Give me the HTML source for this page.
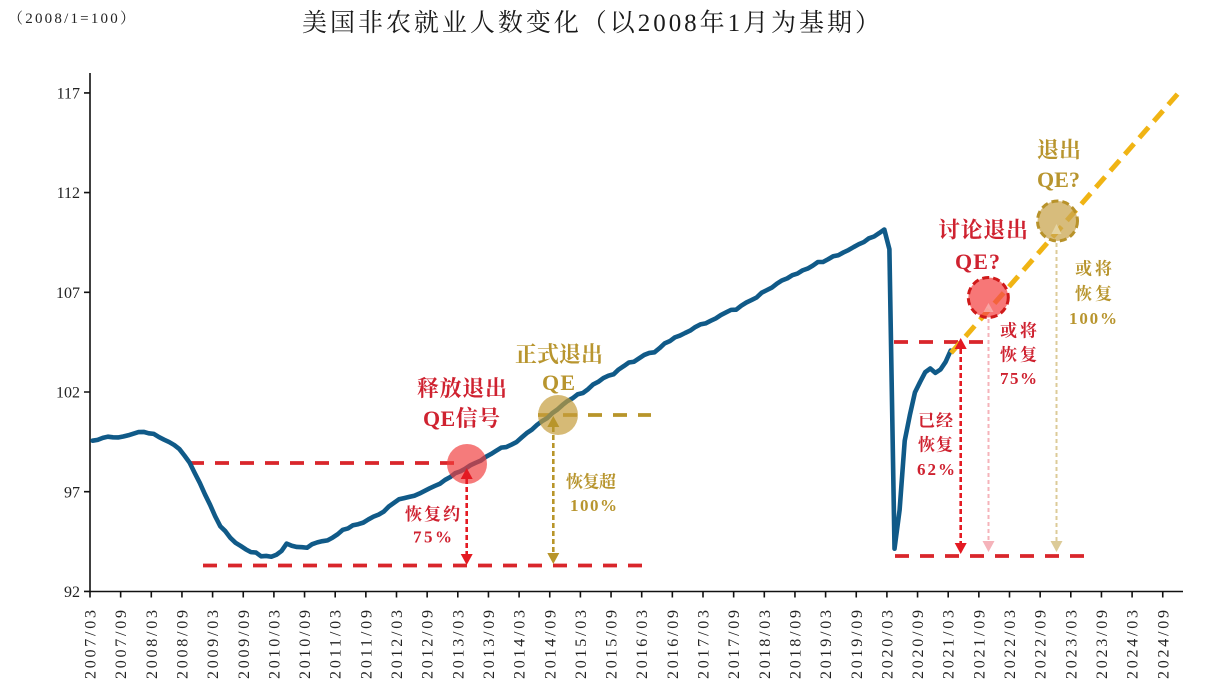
<!DOCTYPE html>
<html><head><meta charset="utf-8"><style>
html,body{margin:0;padding:0;background:#fff;}
svg{display:block;}
.ax{font-family:"Liberation Serif","Noto Serif CJK SC",serif;font-size:16px;fill:#222;}
.an{font-family:"Liberation Serif","Noto Serif CJK SC",serif;font-weight:700;}
.r{fill:#cf2230;}
.g{fill:#b8952e;}
</style></head><body>
<svg width="1218" height="697" viewBox="0 0 1218 697" xmlns="http://www.w3.org/2000/svg">
<rect width="1218" height="697" fill="#fff"/>
<!-- titles -->
<text x="8" y="23" font-family="Liberation Serif, Noto Serif CJK SC, serif" font-size="15" fill="#222" textLength="127" lengthAdjust="spacing">（2008/1=100）</text>
<text x="302" y="31" font-family="Liberation Serif, Noto Serif CJK SC, serif" font-size="25" fill="#1a1a1a" textLength="578" lengthAdjust="spacing">美国非农就业人数变化（以2008年1月为基期）</text>

<!-- axes -->
<g stroke="#111" stroke-width="1.6" fill="none">
<path d="M90,73V591.5H1183"/>
<path d="M84,591.4H90M84,491.7H90M84,392H90M84,292.3H90M84,192.6H90M84,92.9H90"/>
<path d="M90,591.5v6M120.65,591.5v6M151.3,591.5v6M181.95,591.5v6M212.6,591.5v6M243.25,591.5v6M273.9,591.5v6M304.55,591.5v6M335.2,591.5v6M365.85,591.5v6M396.5,591.5v6M427.15,591.5v6M457.8,591.5v6M488.45,591.5v6M519.1,591.5v6M549.75,591.5v6M580.4,591.5v6M611.05,591.5v6M641.7,591.5v6M672.35,591.5v6M703,591.5v6M733.65,591.5v6M764.3,591.5v6M794.95,591.5v6M825.6,591.5v6M856.25,591.5v6M886.9,591.5v6M917.55,591.5v6M948.2,591.5v6M978.85,591.5v6M1009.5,591.5v6M1040.15,591.5v6M1070.8,591.5v6M1101.45,591.5v6M1132.1,591.5v6M1162.75,591.5v6"/>
</g>
<g class="ax" text-anchor="end">
<text x="80" y="597">92</text>
<text x="80" y="497.3">97</text>
<text x="80" y="397.6">102</text>
<text x="80" y="297.9">107</text>
<text x="80" y="198.2">112</text>
<text x="80" y="98.5">117</text>
</g>
<g class="ax" text-anchor="end">
<text transform="translate(95.5,610) rotate(-90)" textLength="69" lengthAdjust="spacing">2007/03</text>
<text transform="translate(126.15,610) rotate(-90)" textLength="69" lengthAdjust="spacing">2007/09</text>
<text transform="translate(156.8,610) rotate(-90)" textLength="69" lengthAdjust="spacing">2008/03</text>
<text transform="translate(187.45,610) rotate(-90)" textLength="69" lengthAdjust="spacing">2008/09</text>
<text transform="translate(218.1,610) rotate(-90)" textLength="69" lengthAdjust="spacing">2009/03</text>
<text transform="translate(248.75,610) rotate(-90)" textLength="69" lengthAdjust="spacing">2009/09</text>
<text transform="translate(279.4,610) rotate(-90)" textLength="69" lengthAdjust="spacing">2010/03</text>
<text transform="translate(310.05,610) rotate(-90)" textLength="69" lengthAdjust="spacing">2010/09</text>
<text transform="translate(340.7,610) rotate(-90)" textLength="69" lengthAdjust="spacing">2011/03</text>
<text transform="translate(371.35,610) rotate(-90)" textLength="69" lengthAdjust="spacing">2011/09</text>
<text transform="translate(402,610) rotate(-90)" textLength="69" lengthAdjust="spacing">2012/03</text>
<text transform="translate(432.65,610) rotate(-90)" textLength="69" lengthAdjust="spacing">2012/09</text>
<text transform="translate(463.3,610) rotate(-90)" textLength="69" lengthAdjust="spacing">2013/03</text>
<text transform="translate(493.95,610) rotate(-90)" textLength="69" lengthAdjust="spacing">2013/09</text>
<text transform="translate(524.6,610) rotate(-90)" textLength="69" lengthAdjust="spacing">2014/03</text>
<text transform="translate(555.25,610) rotate(-90)" textLength="69" lengthAdjust="spacing">2014/09</text>
<text transform="translate(585.9,610) rotate(-90)" textLength="69" lengthAdjust="spacing">2015/03</text>
<text transform="translate(616.55,610) rotate(-90)" textLength="69" lengthAdjust="spacing">2015/09</text>
<text transform="translate(647.2,610) rotate(-90)" textLength="69" lengthAdjust="spacing">2016/03</text>
<text transform="translate(677.85,610) rotate(-90)" textLength="69" lengthAdjust="spacing">2016/09</text>
<text transform="translate(708.5,610) rotate(-90)" textLength="69" lengthAdjust="spacing">2017/03</text>
<text transform="translate(739.15,610) rotate(-90)" textLength="69" lengthAdjust="spacing">2017/09</text>
<text transform="translate(769.8,610) rotate(-90)" textLength="69" lengthAdjust="spacing">2018/03</text>
<text transform="translate(800.45,610) rotate(-90)" textLength="69" lengthAdjust="spacing">2018/09</text>
<text transform="translate(831.1,610) rotate(-90)" textLength="69" lengthAdjust="spacing">2019/03</text>
<text transform="translate(861.75,610) rotate(-90)" textLength="69" lengthAdjust="spacing">2019/09</text>
<text transform="translate(892.4,610) rotate(-90)" textLength="69" lengthAdjust="spacing">2020/03</text>
<text transform="translate(923.05,610) rotate(-90)" textLength="69" lengthAdjust="spacing">2020/09</text>
<text transform="translate(953.7,610) rotate(-90)" textLength="69" lengthAdjust="spacing">2021/03</text>
<text transform="translate(984.35,610) rotate(-90)" textLength="69" lengthAdjust="spacing">2021/09</text>
<text transform="translate(1015,610) rotate(-90)" textLength="69" lengthAdjust="spacing">2022/03</text>
<text transform="translate(1045.65,610) rotate(-90)" textLength="69" lengthAdjust="spacing">2022/09</text>
<text transform="translate(1076.3,610) rotate(-90)" textLength="69" lengthAdjust="spacing">2023/03</text>
<text transform="translate(1106.95,610) rotate(-90)" textLength="69" lengthAdjust="spacing">2023/09</text>
<text transform="translate(1137.6,610) rotate(-90)" textLength="69" lengthAdjust="spacing">2024/03</text>
<text transform="translate(1168.25,610) rotate(-90)" textLength="69" lengthAdjust="spacing">2024/09</text>
</g>

<!-- reference dashed lines -->
<g fill="none" stroke-width="3.8" stroke-dasharray="14 11">
<path d="M190,463H457" stroke="#d9262b"/>
<path d="M203,565.5H648" stroke="#d9262b"/>
<path d="M538,415H651" stroke="#b8952a"/>
<path d="M894,342H983" stroke="#d9262b"/>
<path d="M895,556H1086" stroke="#d9262b"/>
</g>

<!-- main series -->
<path fill="none" stroke="#105a88" stroke-width="4.6" stroke-linejoin="round" stroke-linecap="round" vector-effect="non-scaling-stroke" transform="matrix(5.108 0 0 -19.94 92.554 2425.9)" d="M0,99.56 1,99.60 2,99.70 3,99.76 4,99.73 5,99.72 6,99.77 7,99.83 8,99.91 9,99.99 10,100.00 11,99.93 12,99.90 13,99.74 14,99.61 15,99.49 16,99.34 17,99.14 18,98.81 19,98.46 20,97.94 21,97.44 22,96.87 23,96.35 24,95.77 25,95.27 26,95.02 27,94.68 28,94.44 29,94.28 30,94.11 31,93.97 32,93.95 33,93.76 34,93.78 35,93.74 36,93.84 37,94.03 38,94.40 39,94.29 40,94.23 41,94.22 42,94.19 43,94.37 44,94.46 45,94.52 46,94.56 47,94.70 48,94.87 49,95.09 50,95.16 51,95.32 52,95.37 53,95.45 54,95.61 55,95.75 56,95.85 57,96.00 58,96.26 59,96.44 60,96.62 61,96.68 62,96.74 63,96.80 64,96.91 65,97.04 66,97.17 67,97.29 68,97.40 69,97.59 70,97.73 71,97.93 72,98.02 73,98.16 74,98.33 75,98.45 76,98.56 77,98.75 78,98.89 79,99.05 80,99.21 81,99.24 82,99.36 83,99.49 84,99.72 85,99.94 86,100.11 87,100.35 88,100.54 89,100.69 90,100.94 91,101.12 92,101.35 93,101.55 94,101.69 95,101.89 96,101.95 97,102.14 98,102.38 99,102.51 100,102.70 101,102.82 102,102.89 103,103.13 104,103.30 105,103.48 106,103.52 107,103.69 108,103.86 109,103.96 110,103.99 111,104.20 112,104.44 113,104.55 114,104.74 115,104.83 116,104.96 117,105.08 118,105.26 119,105.39 120,105.44 121,105.57 122,105.69 123,105.86 124,105.99 125,106.12 126,106.13 127,106.33 128,106.49 129,106.61 130,106.74 131,106.98 132,107.11 133,107.24 134,107.44 135,107.60 136,107.70 137,107.86 138,107.94 139,108.10 140,108.19 141,108.34 142,108.52 143,108.52 144,108.66 145,108.81 146,108.86 147,109.00 148,109.12 149,109.27 150,109.41 151,109.52 152,109.71 153,109.80 154,109.97 155,110.15 156,109.16 157,94.14 158,96.09 159,99.56 160,100.84 161,101.98 162,102.50 163,102.99 164,103.18 165,102.96 166,103.13 167,103.51 168,104.08"/>

<!-- circles -->
<circle cx="467" cy="464" r="20" fill="#f03c3c" opacity="0.68"/>
<circle cx="558" cy="415" r="20" fill="#c49c3c" opacity="0.7"/>

<!-- projection line -->
<path d="M951,353L1182,89" fill="none" stroke="#f0b414" stroke-width="5" stroke-dasharray="14 8"/>

<circle cx="988.3" cy="297.5" r="20" fill="#f44a4a" opacity="0.75"/>
<circle cx="988.3" cy="297.5" r="20" fill="none" stroke="#d01a1a" stroke-width="3" stroke-dasharray="7 4"/>
<circle cx="1057.5" cy="221" r="20" fill="#c9a550" opacity="0.75"/>
<circle cx="1057.5" cy="221" r="20" fill="none" stroke="#b8922a" stroke-width="3" stroke-dasharray="7 4"/>

<!-- arrows -->
<g fill="none" stroke-width="2.6" stroke-dasharray="5 3">
<path d="M466.7,479V554" stroke="#e41a22"/>
<path d="M553.3,427V553" stroke="#b8952a"/>
<path d="M960.7,349V543" stroke="#e41a22"/>
</g>
<g fill="none" stroke-width="2" stroke-dasharray="4 3">
<path d="M988.5,319V541" stroke="#f5b3ba"/>
<path d="M1056.5,243V541" stroke="#dccb98"/>
</g>
<g>
<path d="M466.7,468L472.7,479H460.7Z M466.7,565L472.7,554H460.7Z" fill="#e41a22"/>
<path d="M553.3,416L559.3,427H547.3Z M553.3,564L559.3,553H547.3Z" fill="#b8952a"/>
<path d="M960.7,338L966.7,349H954.7Z M960.7,554L966.7,543H954.7Z" fill="#e41a22"/>
<path d="M988.5,552L994.5,541H982.5Z" fill="#f5b3ba"/>
<path d="M988.5,303L993.5,312H983.5Z" fill="#f9b0b0" opacity="0.8"/>
<path d="M1056.5,552L1062.5,541H1050.5Z" fill="#dccb98"/>
<path d="M1056.5,224L1061.5,234H1051.5Z" fill="#e6d6a8" opacity="0.9"/>
</g>

<!-- annotations -->
<g class="an" text-anchor="middle" font-size="22">
<text class="r" x="462" y="396" textLength="90" lengthAdjust="spacing">释放退出</text>
<text class="r" x="461.5" y="426" textLength="77" lengthAdjust="spacing">QE信号</text>
<text class="g" x="559" y="362" textLength="88" lengthAdjust="spacing">正式退出</text>
<text class="g" x="558.5" y="390" textLength="33" lengthAdjust="spacing">QE</text>
<text class="r" x="983" y="237.5" textLength="90" lengthAdjust="spacing">讨论退出</text>
<text class="r" x="977.5" y="269" textLength="45" lengthAdjust="spacing">QE?</text>
<text class="g" x="1059" y="157.5" textLength="44" lengthAdjust="spacing">退出</text>
<text class="g" x="1058.5" y="187" textLength="43" lengthAdjust="spacing">QE?</text>
</g>
<g class="an" text-anchor="middle" font-size="17">
<text class="r" x="432.5" y="520" textLength="55" lengthAdjust="spacing">恢复约</text>
<text class="r" x="432.5" y="542.5" textLength="39" lengthAdjust="spacing">75%</text>
<text class="g" x="591" y="487.5" textLength="50" lengthAdjust="spacing">恢复超</text>
<text class="g" x="593.5" y="511" textLength="47" lengthAdjust="spacing">100%</text>
<text class="r" x="1018.5" y="336.5" textLength="37" lengthAdjust="spacing">或将</text>
<text class="r" x="1018.5" y="360.5" textLength="37" lengthAdjust="spacing">恢复</text>
<text class="r" x="1018.5" y="384" textLength="37" lengthAdjust="spacing">75%</text>
<text class="g" x="1093.5" y="274.5" textLength="37" lengthAdjust="spacing">或将</text>
<text class="g" x="1093.5" y="299.5" textLength="37" lengthAdjust="spacing">恢复</text>
<text class="g" x="1093" y="324" textLength="48" lengthAdjust="spacing">100%</text>
<text class="r" x="935.5" y="426.5" textLength="35" lengthAdjust="spacing">已经</text>
<text class="r" x="935.5" y="450.5" textLength="35" lengthAdjust="spacing">恢复</text>
<text class="r" x="936" y="475" textLength="38" lengthAdjust="spacing">62%</text>
</g>
</svg>
</body></html>
